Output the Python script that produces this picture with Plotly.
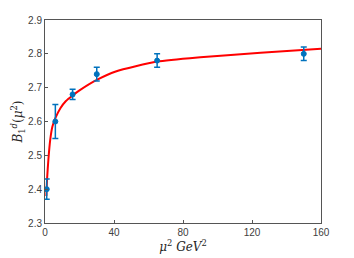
import plotly.graph_objects as go

# data points
mu2 = [1, 6, 16, 30, 65, 150]
B1d = [2.40, 2.60, 2.68, 2.74, 2.78, 2.80]
err = [0.03, 0.05, 0.015, 0.02, 0.02, 0.02]

# fitted curve
fit_x = [0.8, 1.2, 2, 3, 4.3, 6, 9, 12, 16, 20, 30, 41, 65, 90, 125, 160]
fit_y = [2.38, 2.43, 2.49, 2.545, 2.585, 2.61, 2.64, 2.66, 2.677, 2.692, 2.723, 2.748, 2.777, 2.79, 2.803, 2.815]

x_ticks = [0, 40, 80, 120, 160]
y_ticks = [2.3, 2.4, 2.5, 2.6, 2.7, 2.8, 2.9]

blue = "#0072BD"
fig = go.Figure()
fig.add_trace(go.Scatter(x=fit_x, y=fit_y, mode="lines",
                         line=dict(color="red", width=2, shape="spline", smoothing=0.6),
                         showlegend=False, hoverinfo="skip"))
fig.add_trace(go.Scatter(x=mu2, y=B1d, mode="markers",
                         marker=dict(color=blue, size=5, line=dict(color=blue, width=1)),
                         error_y=dict(type="data", array=err, color=blue, thickness=1.5, width=3),
                         showlegend=False))

axis_common = dict(showline=True, linecolor="#555555", linewidth=1, mirror=True,
                   ticks="inside", ticklen=3, tickcolor="#555555", showgrid=False,
                   zeroline=False, automargin=False,
                   tickfont=dict(family="Liberation Sans, Arial", size=10, color="#404040"))
fig.update_layout(
    width=354, height=258,
    margin=dict(l=45, r=33, t=20, b=35),
    paper_bgcolor="white", plot_bgcolor="white",
    xaxis=dict(range=[0, 160], tickvals=x_ticks, ticktext=[str(v) for v in x_ticks],
               title=dict(text="<i>μ</i><sup>2</sup> <i>GeV</i><sup>2</sup>", standoff=3,
                          font=dict(family="DejaVu Serif, Liberation Serif", size=12, color="#262626")),
               **axis_common),
    yaxis=dict(range=[2.3, 2.9], tickvals=y_ticks, ticktext=[f"{v:.1f}" for v in y_ticks],
               title=dict(text="<i>B</i><sub>1</sub><sup><i>d</i></sup>(<i>μ</i><sup>2</sup>)", standoff=2,
                          font=dict(family="DejaVu Serif, Liberation Serif", size=12, color="#262626")),
               **axis_common),
)
fig.write_html("out.html", config={"displayModeBar": False},
               post_script="document.body.style.margin='0';")
